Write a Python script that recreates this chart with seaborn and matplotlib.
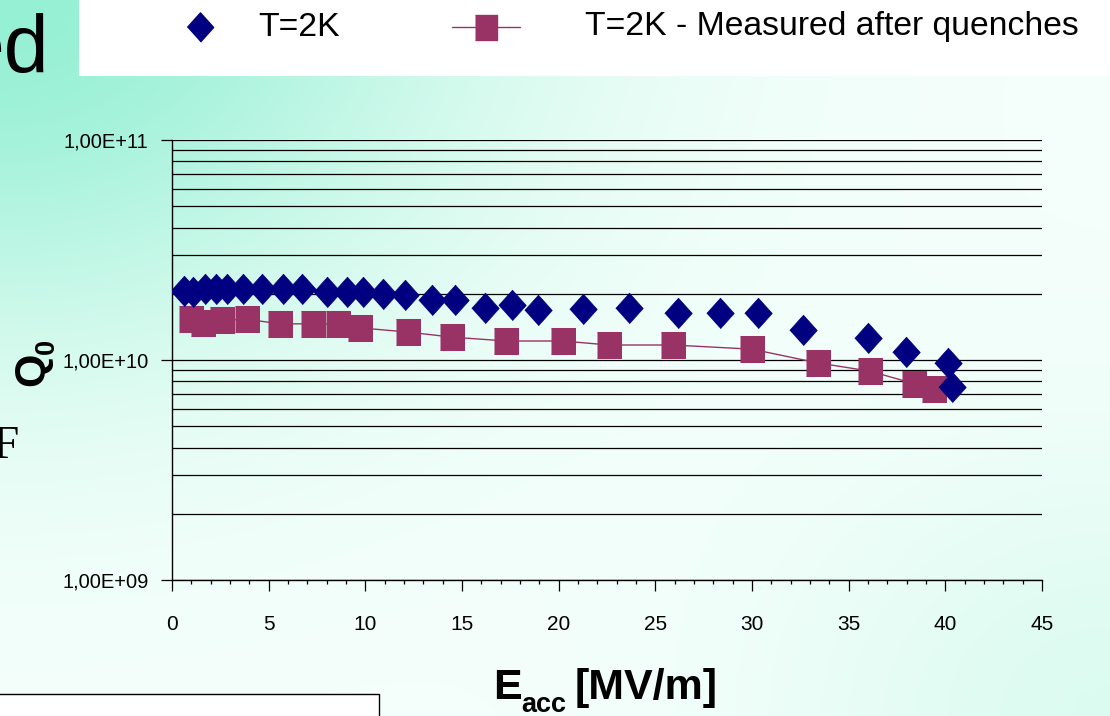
import numpy as np
import pandas as pd
import matplotlib
matplotlib.use("Agg")
import matplotlib.pyplot as plt
import seaborn as sns
from matplotlib.lines import Line2D
from matplotlib.patches import Rectangle
from matplotlib.ticker import FixedLocator, NullFormatter, LogLocator

# ---------------- data ----------------
e_2k = [0.62, 1.09, 1.71, 2.28, 2.85, 3.67, 4.66, 5.74, 6.73, 8.0, 9.05, 9.88,
        10.9, 12.05, 13.45, 14.64, 16.19, 17.59, 18.93, 21.26, 23.64, 26.18,
        28.35, 30.32, 32.64, 36.0, 37.97, 40.14, 40.35]
q_2k = [2.06e10, 2.04e10, 2.10e10, 2.10e10, 2.10e10, 2.10e10, 2.10e10, 2.10e10,
        2.10e10, 2.04e10, 2.04e10, 2.04e10, 1.99e10, 1.97e10, 1.87e10, 1.87e10,
        1.72e10, 1.78e10, 1.69e10, 1.70e10, 1.72e10, 1.64e10, 1.64e10, 1.64e10,
        1.37e10, 1.26e10, 1.09e10, 9.7e9, 7.5e9]

e_quench = [0.98, 1.6, 2.6, 3.9, 5.6, 7.3, 8.6, 9.7, 12.2, 14.5, 17.3, 20.2,
            22.6, 25.9, 30.0, 33.4, 36.1, 38.4, 39.4]
q_quench = [1.53e10, 1.47e10, 1.52e10, 1.53e10, 1.46e10, 1.46e10, 1.46e10,
            1.40e10, 1.34e10, 1.27e10, 1.22e10, 1.22e10, 1.17e10, 1.17e10,
            1.12e10, 9.7e9, 8.9e9, 7.8e9, 7.4e9]

series_labels = ["T=2K", "T=2K - Measured after quenches"]
y_ticks = [1e9, 1e10, 1e11]
y_tick_labels = ["1,00E+09", "1,00E+10", "1,00E+11"]
x_ticks = [0, 5, 10, 15, 20, 25, 30, 35, 40, 45]

df_2k = pd.DataFrame({"E": e_2k, "Q": q_2k})
df_q = pd.DataFrame({"E": e_quench, "Q": q_quench})

# ---------------- figure ----------------
W, H = 1110, 716
sns.set_style("white")
plt.rcParams["font.family"] = ["Liberation Sans", "DejaVu Sans"]
plt.rcParams["text.color"] = "black"
plt.rcParams["xtick.color"] = "black"
plt.rcParams["ytick.color"] = "black"
plt.rcParams["xtick.labelcolor"] = "black"
plt.rcParams["ytick.labelcolor"] = "black"
fig = plt.figure(figsize=(W / 100, H / 100), dpi=100)

def fx(px):
    return px / W

def fy(py):
    return (H - py) / H

# background gradient
bg = fig.add_axes([0, 0, 1, 1], zorder=-10)
yy, xx = np.mgrid[0:H, 0:W]
w1 = np.exp(-((xx / 470.0) ** 2 + (yy / 340.0) ** 2))
w2 = 0.26 * np.exp(-(((W - xx) / 320.0) ** 2 + ((H - yy) / 260.0) ** 2))
w = np.clip(w1 + w2, 0, 1)
aqua = np.array([150, 240, 212]) / 255.0
white = np.array([245, 255, 251]) / 255.0
img = white[None, None, :] * (1 - w[..., None]) + aqua[None, None, :] * w[..., None]
bg.imshow(img, extent=[0, 1, 0, 1], aspect="auto", origin="upper")
bg.axis("off")

# white boxes
fig.patches.append(Rectangle((fx(79), fy(75.5)), 1 - fx(79), 1 - fy(75.5),
                             transform=fig.transFigure, facecolor="white",
                             edgecolor="none", zorder=-5))
fig.patches.append(Rectangle((fx(-5), fy(740)), fx(384), fy(694) - fy(740),
                             transform=fig.transFigure, facecolor="white",
                             edgecolor="black", linewidth=1.0, zorder=-5))

# main axes
ax = fig.add_axes([fx(172), fy(580), fx(1042) - fx(172), fy(140) - fy(580)])
ax.patch.set_alpha(0)

diamond = [(0, -0.5), (0.45, 0), (0, 0.5), (-0.45, 0)]
rect = [(-0.44, -0.5), (0.44, -0.5), (0.44, 0.5), (-0.44, 0.5)]

sns.lineplot(data=df_q, x="E", y="Q", ax=ax, sort=False, estimator=None,
             color="#993366", linewidth=1.0, marker=rect, markersize=19,
             markeredgecolor="#993366", markerfacecolor="#993366", zorder=3)
sns.scatterplot(data=df_2k, x="E", y="Q", ax=ax, marker=diamond, s=22 ** 2,
                color="#000080", edgecolor="#000080", linewidth=0.5, zorder=4)

ax.set_yscale("log")
ax.set_ylim(1e9, 1e11)
ax.set_xlim(0, 45)

# gridlines (major + minor log lines)
ax.yaxis.set_major_locator(FixedLocator(y_ticks))
ax.yaxis.set_minor_locator(LogLocator(base=10, subs=np.arange(2, 10)))
ax.yaxis.set_minor_formatter(NullFormatter())
ax.set_yticklabels(y_tick_labels)
ax.grid(True, axis="y", which="both", color="black", linewidth=0.9)
ax.set_axisbelow(True)

ax.set_xticks(x_ticks)
ax.set_xticklabels([str(v) for v in x_ticks])
ax.xaxis.set_minor_locator(FixedLocator(np.arange(0, 46, 1)))

ax.tick_params(axis="y", which="major", direction="out", length=8, width=0.9,
               pad=9, labelsize=14.5, left=True, color="black")
ax.tick_params(axis="y", which="minor", length=0)
ax.tick_params(axis="x", which="major", direction="out", length=8, width=0.9,
               pad=17, labelsize=15, bottom=True, color="black")
ax.tick_params(axis="x", which="minor", direction="out", length=3, width=0.9,
               bottom=True, color="black")

for s in ["top", "right"]:
    ax.spines[s].set_visible(False)
for s in ["left", "bottom"]:
    ax.spines[s].set_color("black")
    ax.spines[s].set_linewidth(1.0)

ax.set_xlabel("")
ax.set_ylabel("")
if ax.get_legend() is not None:
    ax.get_legend().remove()

# axis titles
fig.text(fx(493), fy(699), "E", fontsize=31, fontweight="bold", ha="left",
         va="baseline")
fig.text(fx(521), fy(712), "acc", fontsize=19.5, fontweight="bold", ha="left",
         va="baseline")
fig.text(fx(575), fy(699), "[MV/m]", fontsize=31, fontweight="bold", ha="left",
         va="baseline")
fig.text(fx(43), fy(386), "Q", fontsize=31, fontweight="bold", rotation=90,
         rotation_mode="anchor", ha="left", va="baseline")
fig.text(fx(54), fy(354), "0", fontsize=19.5, fontweight="bold", rotation=90,
         rotation_mode="anchor", ha="left", va="baseline")

# clipped slide texts
fig.text(fx(49), fy(72), "ed", fontsize=58, ha="right", va="baseline")
fig.text(fx(-7), fy(458), "F", fontsize=34, ha="left", va="baseline",
         family=["Liberation Serif", "DejaVu Serif"])

# legend (manual)
fig.add_artist(Line2D([fx(200)], [fy(27)], marker=diamond, markersize=21,
                      color="#000080", markeredgecolor="#000080",
                      linestyle="none", transform=fig.transFigure))
fig.text(fx(258), fy(27), series_labels[0], fontsize=24.3, ha="left",
         va="center")
fig.add_artist(Line2D([fx(452), fx(520)], [fy(27), fy(27)], color="#993366",
                      linewidth=1.0, transform=fig.transFigure))
fig.add_artist(Line2D([fx(486)], [fy(27)], marker=rect, markersize=18,
                      color="#993366", markeredgecolor="#993366",
                      linestyle="none", transform=fig.transFigure))
fig.text(fx(585), fy(27), series_labels[1], fontsize=24.3, ha="left",
         va="center")

fig.savefig("out.png", dpi=100)
